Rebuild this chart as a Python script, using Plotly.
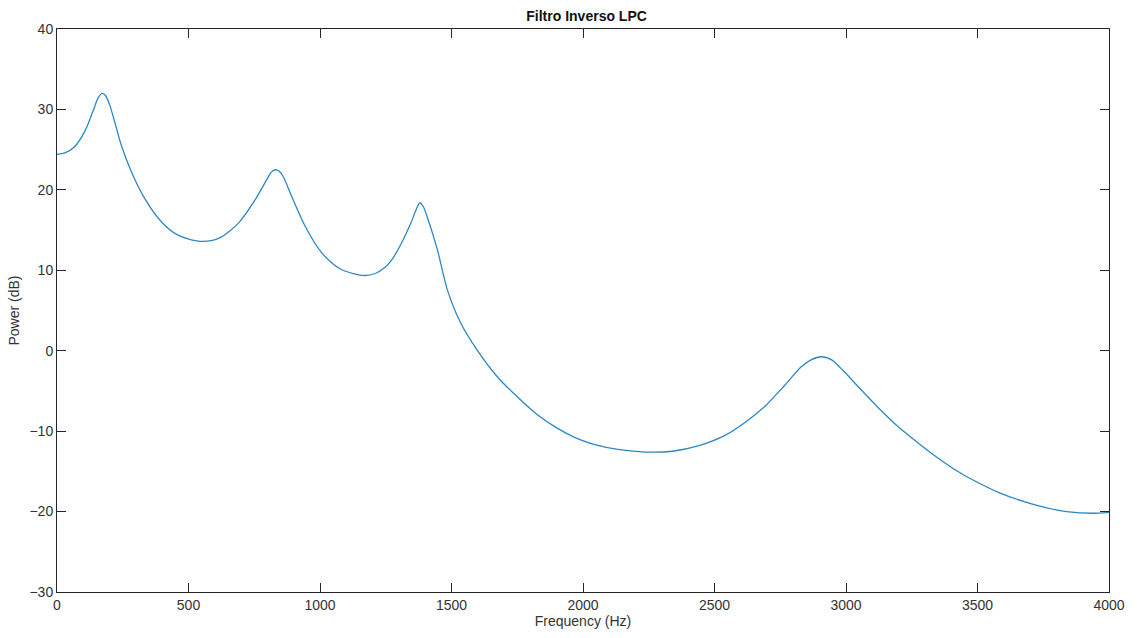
import plotly.graph_objects as go

freq_hz = [0, 30, 68, 106, 137, 156, 171, 185, 200, 219, 244, 282, 332, 395, 458, 546,
           616, 691, 754, 798, 815, 830, 845, 861, 892, 943, 1006, 1081, 1170, 1210, 1245,
           1275, 1310, 1346, 1366, 1380, 1393, 1409, 1446, 1484, 1534, 1597, 1673, 1749,
           1824, 1900, 1970, 2038, 2139, 2239, 2340, 2441, 2542, 2617, 2692, 2767, 2830,
           2869, 2907, 2944, 2990, 3050, 3120, 3190, 3260, 3335, 3410, 3490, 3586, 3712,
           3838, 3964, 4000]
power_db = [24.4, 24.6, 25.4, 27.3, 29.8, 31.4, 32.0, 31.7, 30.6, 28.5, 25.6, 22.3, 19.0,
            16.1, 14.4, 13.6, 14.0, 15.9, 18.8, 21.3, 22.2, 22.5, 22.3, 21.6, 19.2, 15.5,
            12.2, 10.1, 9.35, 9.6, 10.3, 11.4, 13.4, 15.9, 17.6, 18.4, 17.9, 16.5, 12.6,
            7.6, 3.5, 0.1, -3.2, -5.7, -7.9, -9.6, -10.8, -11.6, -12.3, -12.6, -12.5,
            -11.8, -10.5, -8.9, -6.9, -4.3, -2.0, -1.1, -0.75, -1.1, -2.5, -4.6, -7.0,
            -9.2, -11.1, -13.0, -14.7, -16.2, -17.7, -19.1, -20.0, -20.2, -20.1]

x_ticks = [0, 500, 1000, 1500, 2000, 2500, 3000, 3500, 4000]
y_ticks = [-30, -20, -10, 0, 10, 20, 30, 40]

fig = go.Figure()
fig.add_trace(go.Scatter(x=freq_hz, y=power_db, mode="lines",
                         line=dict(color="rgb(45,135,195)", width=1.3, shape="spline", smoothing=0.8),
                         showlegend=False, hoverinfo="skip"))

font_fam = "Liberation Sans, Arial"
axis_common = dict(showline=True, linecolor="#262626", linewidth=1, mirror="ticks",
                   ticks="inside", ticklen=9, tickcolor="#262626", tickwidth=1,
                   showgrid=False, zeroline=False,
                   tickfont=dict(family=font_fam, size=14, color="#333333"))

fig.update_layout(
    width=1137, height=638,
    margin=dict(l=57, r=21, t=29, b=45),
    paper_bgcolor="white", plot_bgcolor="white",
    title=dict(text="<b>Filtro Inverso LPC</b>", x=0.5159, xanchor="center",
               y=1 - 16/638, yanchor="middle", yref="container",
               font=dict(family=font_fam, size=14, color="#111111")),
    xaxis=dict(range=[0, 4000], tickvals=x_ticks,
               title=dict(text="Frequency (Hz)", standoff=3,
                          font=dict(family=font_fam, size=14, color="#333333")),
               **axis_common),
    yaxis=dict(range=[-30, 40], tickvals=y_ticks,
               title=dict(text="Power (dB)", standoff=6,
                          font=dict(family=font_fam, size=14, color="#333333")),
               **axis_common),
)

fig.write_html("out.html")
